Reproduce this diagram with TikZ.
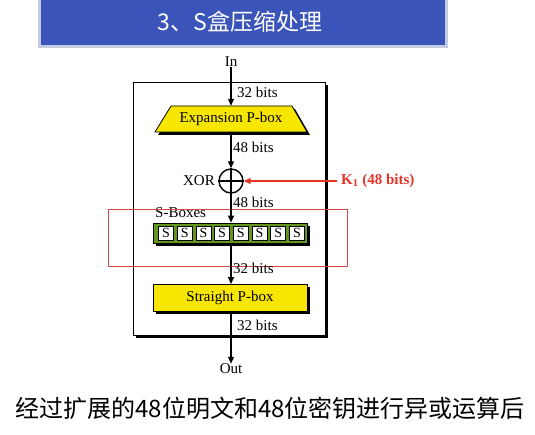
\documentclass[tikz,border=0pt]{standalone}
\usepackage{fontspec}
\setmainfont{Liberation Serif}
\newfontfamily\cjk{Noto Sans CJK SC}
\usetikzlibrary{arrows.meta,shadows}

\definecolor{titleblue}{RGB}{58,84,186}
\definecolor{titleedge}{RGB}{196,204,228}
\definecolor{boxyellow}{RGB}{247,230,0}
\definecolor{sgreen}{RGB}{98,150,28}
\definecolor{keyred}{RGB}{228,52,40}
\definecolor{markred}{RGB}{214,72,72}

\begin{document}
\begin{tikzpicture}[x=1pt,y=-1pt,
		lbl/.style={font=\fontsize{15}{16}\selectfont, inner sep=0pt},
		bits/.style={lbl, anchor=west},
		flow/.style={-{Triangle[length=7pt,width=6pt]}, line width=1.1pt},
		shade/.style={drop shadow={shadow xshift=3pt, shadow yshift=-3pt, fill=black, opacity=1}},
		pbox/.style={draw, line width=0.8pt, fill=boxyellow, shade, lbl},
		sbox/.style={draw, line width=0.8pt, fill=white, minimum width=15pt, minimum height=14pt, inner sep=0pt, font=\fontsize{14}{14}\selectfont}]
	\useasboundingbox (0,0) rectangle (535,435);
	% title bar
	\fill[titleedge] (38,0) rectangle (448,48);
	\fill[titleblue] (41,0) rectangle (445,45);
	\node[text=white, font=\cjk\fontsize{23}{24}\selectfont] (title) at (240,22) {3、S盒压缩处理};

	% outer frame
	\fill (136,85) rectangle (328,338);
	\draw[fill=white, line width=0.9pt] (133,82) rectangle (325,335);

	\node[lbl] (in) at (231,62) {In};
	% expansion box (trapezoid, wider at the bottom)
	\fill (174,109) -- (295,109) -- (310,135) -- (158,135) -- cycle;
	\draw[fill=boxyellow, line width=0.8pt] (171,106) -- (292,106) -- (307,132) -- (155,132) -- cycle;
	\node[lbl, minimum width=152pt, minimum height=26pt] (exp) at (231,119) {Expansion P-box};
	\node[circle, draw, line width=1.4pt, minimum size=24pt, inner sep=0pt] (xor) at (231,181) {};
	\draw[line width=1.4pt] (xor.north) -- (xor.south) (xor.west) -- (xor.east);
	\node[lbl, anchor=east] (xorlbl) at (215,181) {XOR};
	\coordinate (kin) at (337,181);
	\node[lbl, anchor=west, text=keyred, font=\bfseries\fontsize{15}{16}\selectfont] (key) at (341,181) {K\textsubscript{1} (48 bits)};

	% S-boxes
	\node[draw, line width=0.8pt, fill=sgreen, shade, minimum width=154pt, minimum height=20pt] (sboxes) at (230,233) {};
	\foreach \i in {0,...,7}
		\node[sbox] (s\i) at (166+18.7*\i,233) {S};
	\node[lbl, anchor=west] (slbl) at (155,213) {S-Boxes};
	\draw[markred, line width=0.8pt] (108,209) rectangle (347,266);

	\node[pbox, minimum width=154pt, minimum height=27pt] (str) at (230,298) {Straight P-box};
	\node[lbl] (out) at (231,369) {Out};

	% connectors
	\draw[flow] (in) -- (exp.north -| in);
	\draw[flow] (exp.south -| in) -- (xor);
	\draw[flow] (xor) -- (sboxes.north -| xor);
	\draw[flow] (sboxes.south -| xor) -- (str.north -| xor);
	\draw[flow] (str.south -| xor) -- (out);
	\draw[flow, keyred] (kin) -- (xor);

	\node[bits] (b1) at (237,92) {32 bits};
	\node[bits] (b2) at (233,147) {48 bits};
	\node[bits] (b3) at (233,202) {48 bits};
	\node[bits] (b4) at (233,268) {32 bits};
	\node[bits] (b5) at (237,325) {32 bits};

	% caption
	\node[font=\cjk\fontsize{24}{25}\selectfont] (cap) at (270,408) {经过扩展的48位明文和48位密钥进行异或运算后};
\end{tikzpicture}
\end{document}
